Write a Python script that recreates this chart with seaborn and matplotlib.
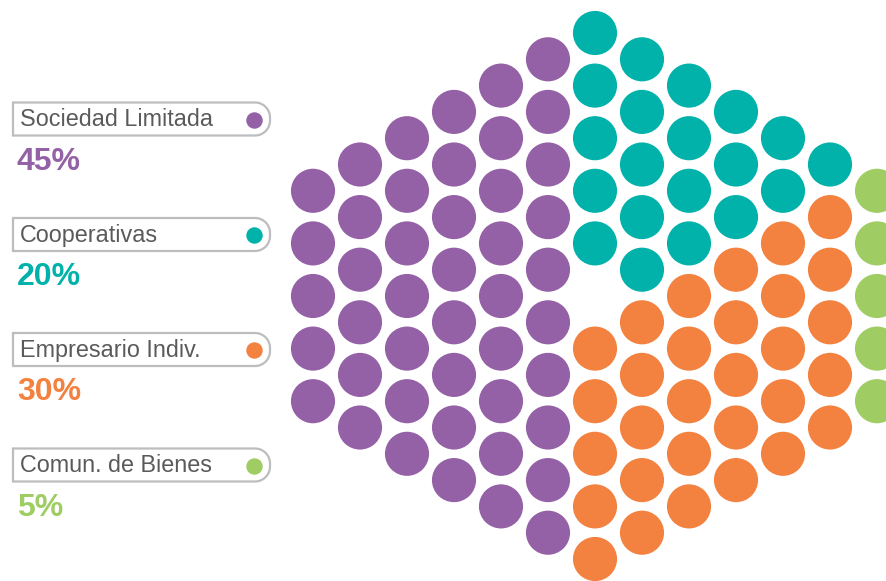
import numpy as np
import pandas as pd
import matplotlib
matplotlib.use("Agg")
import matplotlib.pyplot as plt
import seaborn as sns
from matplotlib.path import Path
from matplotlib.patches import PathPatch

# ---- data ----
categories = ["Sociedad Limitada", "Cooperativas", "Empresario Indiv.", "Comun. de Bienes"]
percentages = [45, 20, 30, 5]
pct_labels = ["45%", "20%", "30%", "5%"]
colors = ["#9460A6", "#00B2A9", "#F3813F", "#9FCD63"]

# ---- layout of the hexagonal dot grid (100 slots + 1 gap) ----
W, H = 886, 581
n_cols = 13
x0, dx = 313, 47
yc, dy = 296, 52.6
col_sizes = [11 - abs(c - 6) for c in range(n_cols)]

slots = {}  # (col, row) -> (x, y)
for c, n in enumerate(col_sizes):
    for j in range(n):
        slots[(c, j)] = (x0 + c * dx, yc + (j - (n - 1) / 2) * dy)

assign = {}
order = [(c, j) for c in range(n_cols) for j in range(col_sizes[c])]
# first category: fill from the left, column by column
k = 0
for key in order:
    if k >= percentages[0]:
        break
    assign[key] = categories[0]; k += 1
# last category: fill from the right
k = 0
for key in reversed(order):
    if k >= percentages[3]:
        break
    assign[key] = categories[3]; k += 1
# middle columns
mid_cols = [c for c in range(n_cols) if not any(assign.get((c, j)) for j in range(col_sizes[c]))]
per_col = percentages[2] // len(mid_cols)
for c in mid_cols:
    for j in range(col_sizes[c] - per_col, col_sizes[c]):
        assign[(c, j)] = categories[2]
k = 0
for c in reversed(mid_cols):
    for j in range(col_sizes[c]):
        if (c, j) not in assign and k < percentages[1]:
            assign[(c, j)] = categories[1]; k += 1

df = pd.DataFrame([{"x": slots[key][0], "y": slots[key][1], "cat": cat}
                   for key, cat in assign.items()])

# ---- figure ----
sns.set_theme(style="white")
plt.rcParams["font.family"] = ["Liberation Sans", "DejaVu Sans"]
fig = plt.figure(figsize=(W / 100, H / 100), dpi=100)
ax = fig.add_axes([0, 0, 1, 1])
sns.scatterplot(data=df, x="x", y="y", hue="cat", hue_order=categories,
                palette=colors, s=1010, linewidth=0, legend=False, ax=ax)
ax.set_xlim(0, W)
ax.set_ylim(H, 0)
ax.set_axis_off()

# ---- legend boxes ----
box_y = [119, 234.5, 349.5, 465]
bx0, bx1, bh, r = 13, 270, 33, 15
for cat, lab, col, yy in zip(categories, pct_labels, colors, box_y):
    top, bot = yy - bh / 2, yy + bh / 2
    # path: square left corners, rounded right end
    arc_top = [(bx1 - r + r * np.cos(a), top + r + r * np.sin(a)) for a in np.linspace(-np.pi / 2, 0, 20)]
    arc_bot = [(bx1 - r + r * np.cos(a), bot - r + r * np.sin(a)) for a in np.linspace(0, np.pi / 2, 20)]
    verts = [(bx0, top)] + arc_top + arc_bot + [(bx0, bot), (bx0, top)]
    path = Path(verts, closed=True)
    ax.add_patch(PathPatch(path, facecolor="white", edgecolor="#BDBDBF", lw=1.6, zorder=3))
    ax.text(bx0 + 7, yy + 1, cat, fontsize=16.8, color="#5a5a5a",
            va="center", ha="left", zorder=4)
    ax.scatter([254], [yy + 0.5], s=140, color=col, linewidth=0, zorder=5)
    ax.text(bx0 + 4, yy + 42.5, lab, fontsize=23, fontweight="bold", color=col,
            va="center", ha="left", zorder=4)

fig.savefig("out.png", dpi=100)
